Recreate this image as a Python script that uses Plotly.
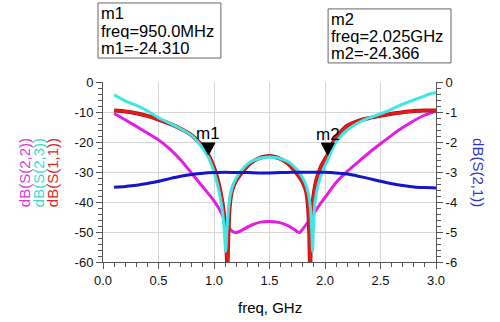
import plotly.graph_objects as go

# ---- S-parameter sweep (frequency in GHz, magnitude in dB) ----
s11_freq = [0.10, 0.20, 0.30, 0.40, 0.50, 0.60, 0.70, 0.80, 0.85, 0.90, 0.95, 1.00, 1.04,
            1.075, 1.10, 1.112, 1.12, 1.13, 1.14, 1.16, 1.19, 1.23, 1.28, 1.33, 1.40, 1.45, 1.50,
            1.54, 1.59, 1.66, 1.71, 1.76, 1.80, 1.83, 1.848, 1.858, 1.866, 1.875, 1.89, 1.92, 1.96,
            2.00, 2.025, 2.06, 2.10, 2.15, 2.20, 2.30, 2.40, 2.50, 2.60, 2.70, 2.80, 2.90, 3.00]
s11_db = [-9.5, -9.8, -10.4, -11.3, -12.5, -13.9, -15.6, -17.8, -19.5, -21.6, -24.31, -28.5, -33.5,
          -40.0, -48.0, -55.0, -62.0, -50.0, -42.0, -36.5, -33.5, -31.2, -28.9, -27.0, -25.5, -24.9, -24.7,
          -24.9, -25.5, -27.0, -28.9, -31.2, -33.5, -36.5, -42.0, -50.0, -62.0, -50.0, -40.0, -33.0, -28.5,
          -25.8, -24.366, -21.0, -18.5, -16.3, -14.6, -13.0, -12.0, -11.3, -10.6, -10.1, -9.7, -9.5, -9.5]

s23_freq = [0.10, 0.20, 0.30, 0.40, 0.50, 0.60, 0.70, 0.80, 0.85, 0.90, 0.95, 1.00, 1.04, 1.07,
            1.09, 1.105, 1.117, 1.13, 1.15, 1.18, 1.22, 1.27, 1.32, 1.40, 1.45, 1.50, 1.55, 1.60,
            1.68, 1.73, 1.78, 1.82, 1.85, 1.87, 1.88, 1.888, 1.897, 1.91, 1.94, 1.98, 2.025, 2.07,
            2.12, 2.20, 2.30, 2.40, 2.50, 2.60, 2.70, 2.80, 2.90, 2.95, 3.00]
s23_db = [-4.3, -6.3, -7.8, -9.6, -11.9, -13.7, -15.6, -17.9, -19.8, -22.2, -25.2, -30.0, -35.5, -41.5,
          -48.0, -56.5, -49.0, -42.5, -37.0, -33.5, -30.8, -28.5, -26.8, -25.6, -25.2, -25.0, -25.2, -25.6,
          -26.8, -28.5, -30.8, -33.5, -37.0, -42.5, -49.0, -56.5, -48.0, -40.0, -34.0, -29.5, -26.0, -22.0,
          -19.0, -16.0, -13.6, -11.9, -10.6, -9.1, -7.4, -6.0, -4.6, -3.9, -3.6]

s22_freq = [0.10, 0.20, 0.30, 0.40, 0.50, 0.60, 0.70, 0.80, 0.90, 1.00, 1.05, 1.10, 1.15, 1.19,
            1.22, 1.28, 1.35, 1.42, 1.50, 1.58, 1.65, 1.71, 1.75, 1.77, 1.80, 1.85, 1.90, 1.95,
            2.00, 2.10, 2.20, 2.30, 2.40, 2.50, 2.60, 2.70, 2.80, 2.90, 3.00]
s22_db = [-10.5, -12.6, -14.8, -17.0, -19.3, -22.3, -26.0, -30.5, -35.0, -39.6, -42.5, -46.3, -49.3, -50.2,
          -50.0, -48.8, -47.5, -46.7, -46.5, -46.8, -47.6, -48.8, -49.9, -50.2, -49.0, -46.5, -43.8, -41.0,
          -38.5, -33.5, -29.8, -26.6, -23.5, -20.6, -17.8, -15.2, -12.9, -11.0, -9.6]

s21_freq = [0.10, 0.20, 0.30, 0.40, 0.50, 0.60, 0.70, 0.80, 0.90, 1.00, 1.10, 1.20, 1.30, 1.40, 1.50,
            1.60, 1.70, 1.80, 1.90, 2.00, 2.10, 2.20, 2.30, 2.40, 2.50, 2.60, 2.70, 2.80, 2.90, 3.00]
s21_db = [-3.51, -3.48, -3.44, -3.38, -3.31, -3.22, -3.14, -3.08, -3.04, -3.02, -3.01, -3.02, -3.02, -3.03, -3.03,
          -3.02, -3.01, -3.01, -3.01, -3.01, -3.03, -3.07, -3.14, -3.22, -3.31, -3.39, -3.45, -3.50, -3.52, -3.53]

# ---- markers placed on dB(S(1,1)) ----
marker_names = ["m1", "m2"]
marker_freq = [0.95, 2.025]
marker_val = [-24.310, -24.366]

# ---- axis ticks ----
x_ticks = [0.0, 0.5, 1.0, 1.5, 2.0, 2.5, 3.0]
x_labels = ["0.0", "0.5", "1.0", "1.5", "2.0", "2.5", "3.0"]
y_ticks = [0, -10, -20, -30, -40, -50, -60]
y_labels = ["0", "-10", "-20", "-30", "-40", "-50", "-60"]
y2_ticks = [0, -1, -2, -3, -4, -5, -6]
y2_labels = ["0", "-1", "-2", "-3", "-4", "-5", "-6"]

FONT = "Liberation Sans, Arial, sans-serif"
RED = "#e61a1a"
CYAN = "#3ee6e6"
MAGENTA = "#e21ee2"
BLUE = "#1414c8"
AXIS = "#555555"
SMOOTH = dict(shape="spline", smoothing=0.6)

fig = go.Figure()

fig.add_trace(go.Scatter(x=s21_freq, y=s21_db, yaxis="y2", mode="lines",
                         line=dict(color=BLUE, width=3, **SMOOTH), name="dB(S(2,1))"))
fig.add_trace(go.Scatter(x=s22_freq, y=s22_db, mode="lines",
                         line=dict(color=MAGENTA, width=3, **SMOOTH), name="dB(S(2,2))"))
fig.add_trace(go.Scatter(x=s11_freq, y=s11_db, mode="lines",
                         line=dict(color="#b01010", width=4, **SMOOTH), hoverinfo="skip"))
fig.add_trace(go.Scatter(x=s11_freq, y=s11_db, mode="lines",
                         line=dict(color=RED, width=2.6, **SMOOTH), name="dB(S(1,1))"))
fig.add_trace(go.Scatter(x=s23_freq, y=s23_db, mode="lines",
                         line=dict(color=CYAN, width=3, **SMOOTH), name="dB(S(2,3))"))

# marker triangles (tip on the data point) and their names
for name, f, v in zip(marker_names, marker_freq, marker_val):
    fig.add_shape(type="path", xref="x", yref="y", xsizemode="pixel", ysizemode="pixel",
                  xanchor=f, yanchor=v, path="M -6.5 12 L 6.5 12 L 0 0 Z",
                  fillcolor="black", line=dict(color="black", width=1))
    fig.add_annotation(x=f, y=v, xref="x", yref="y", text=name, showarrow=False,
                       yanchor="middle", yshift=21, font=dict(family=FONT, size=17, color="black"))

# marker readout boxes (paper coordinates)
def readout(name, f, v):
    ftxt = f"freq={f * 1000:.1f}MHz" if f < 1 else f"freq={f:.3f}GHz"
    return [name, ftxt, f"{name}={v:.3f}"]

box_specs = [(-0.015, 0.354, 1.439, 1.133, -0.009, [1.383, 1.286, 1.189]),
             (0.676, 1.045, 1.406, 1.106, 0.682, [1.350, 1.256, 1.161])]
for (x0, x1, y0, y1, tx, tys), name, f, v in zip(box_specs, marker_names, marker_freq, marker_val):
    fig.add_shape(type="rect", xref="paper", yref="paper", x0=x0, x1=x1, y0=y0, y1=y1,
                  line=dict(color="#666666", width=1), fillcolor="white", layer="above")
    for line_txt, ty in zip(readout(name, f, v), tys):
        fig.add_annotation(x=tx, y=ty, xref="paper", yref="paper", text=line_txt, showarrow=False,
                           xanchor="left", yanchor="middle", height=16, borderpad=0,
                           font=dict(family=FONT, size=16.5, color="black"))

# axis titles
for txt, col, px in [("dB(S(2,2))", "#d83cd8", -0.237), ("dB(S(2,3))", "#3cd8d8", -0.195),
                     ("dB(S(1,1))", "#e02828", -0.153)]:
    fig.add_annotation(x=px, y=0.494, xref="paper", yref="paper", text=txt, textangle=-90,
                       showarrow=False, xanchor="center", yanchor="middle",
                       font=dict(family=FONT, size=15, color=col))
fig.add_annotation(x=1.129, y=0.494, xref="paper", yref="paper", text="dB(S(2,1))", textangle=90,
                   showarrow=False, xanchor="center", yanchor="middle",
                   font=dict(family=FONT, size=15, color="#3434c4"))
fig.add_annotation(x=0.5, y=-0.25, xref="paper", yref="paper", text="freq, GHz", showarrow=False,
                   xanchor="center", yanchor="middle", font=dict(family=FONT, size=15, color="black"))

fig.update_layout(
    width=500, height=322,
    margin=dict(l=103, r=64, t=82, b=60),
    paper_bgcolor="white", plot_bgcolor="white",
    showlegend=False,
    font=dict(family=FONT, size=13, color="#111111"),
    xaxis=dict(range=[0, 3], tickmode="array", tickvals=x_ticks, ticktext=x_labels,
               ticks="outside", ticklen=6, tickcolor=AXIS, showline=True, linecolor=AXIS,
               linewidth=1, showgrid=True, gridcolor="#d6d6d6", gridwidth=1, zeroline=False,
               automargin=False,
               minor=dict(tickmode="linear", tick0=0, dtick=0.1, ticks="outside", ticklen=4,
                          tickcolor=AXIS, showgrid=False)),
    yaxis=dict(range=[-60, 0], tickmode="array", tickvals=y_ticks, ticktext=y_labels,
               ticks="outside", ticklen=6, tickcolor=AXIS, showline=True, linecolor=AXIS,
               linewidth=1, showgrid=True, gridcolor="#d6d6d6", gridwidth=1, zeroline=False,
               automargin=False,
               minor=dict(tickmode="linear", tick0=0, dtick=2, ticks="outside", ticklen=4,
                          tickcolor=AXIS, showgrid=False)),
    yaxis2=dict(range=[-6, 0], overlaying="y", side="right", tickmode="array",
                tickvals=y2_ticks, ticktext=y2_labels, ticks="outside", ticklen=6,
                tickcolor=AXIS, showline=True, linecolor=AXIS, linewidth=1, showgrid=False,
                zeroline=False, automargin=False,
                minor=dict(tickmode="linear", tick0=0, dtick=0.2, ticks="outside", ticklen=4,
                           tickcolor=AXIS, showgrid=False)),
)

fig.write_html("out.html")
